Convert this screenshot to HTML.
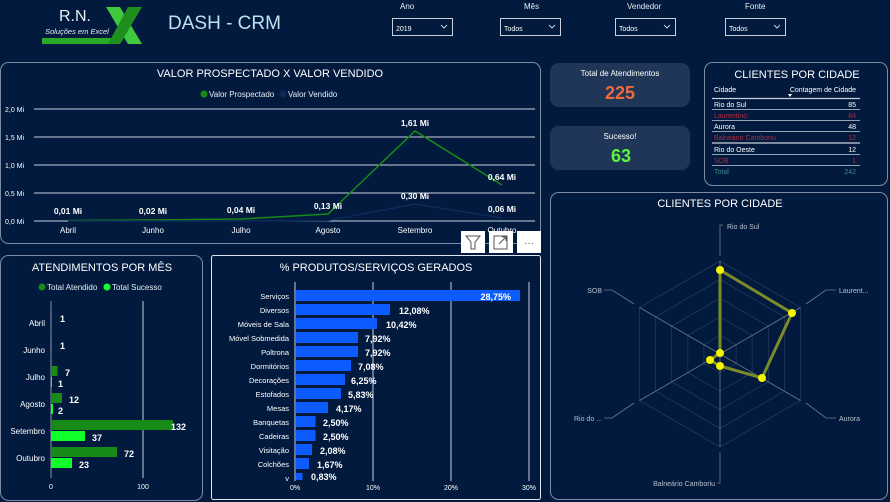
<!DOCTYPE html>
<html><head><meta charset="utf-8"><style>
html,body{margin:0;padding:0;background:#011a3e;}
svg{display:block;font-family:"Liberation Sans",sans-serif;}
</style></head><body>
<svg width="890" height="502" viewBox="0 0 890 502" xmlns="http://www.w3.org/2000/svg">
<rect width="890" height="502" fill="#011a3e"/>
<!-- logo -->
<polygon points="42,38 118,38 124,32 128,32 120,44 42,44" fill="#2aa82a"/>
<polygon points="106,7 120,7 142,44 128,44" fill="#3ec93e"/>
<polygon points="128,7 142,7 120,44 108,44" fill="#1e8f1e"/>
<text x="59" y="21" font-size="16" fill="#e8eef5">R.N.</text>
<text x="45" y="34" font-size="7.5" font-style="italic" fill="#e8eef5">Soluções em Excel</text>
<text x="168" y="29" font-size="19" fill="#bfe0ef">DASH - CRM</text>
<!-- slicers -->
<g font-size="8" fill="#e8eef5">
<text x="400" y="9">Ano</text><text x="524" y="9">Mês</text><text x="627" y="9">Vendedor</text><text x="745" y="9">Fonte</text>
</g>
<g fill="none" stroke="#c8d0dc" stroke-width="1">
<rect x="392.5" y="18.5" width="60" height="17"/><rect x="500.5" y="18.5" width="60" height="17"/>
<rect x="615.5" y="18.5" width="60" height="17"/><rect x="725.5" y="18.5" width="60" height="17"/>
</g>
<g font-size="7" fill="#fff">
<text x="396" y="31">2019</text><text x="504" y="31">Todos</text><text x="619" y="31">Todos</text><text x="729" y="31">Todos</text>
</g>
<g fill="none" stroke="#fff" stroke-width="0.8">
<polyline points="441,25 444,28 447,25"/><polyline points="549,25 552,28 555,25"/><polyline points="664,25 667,28 670,25"/><polyline points="774,25 777,28 780,25"/>
</g>

<!-- line chart panel -->
<rect x="0.5" y="62.5" width="540" height="181" rx="8" fill="none" stroke="#7f8ba0"/>
<text x="270" y="77" font-size="11" fill="#fff" text-anchor="middle">VALOR PROSPECTADO X VALOR VENDIDO</text>
<circle cx="204" cy="94" r="3.5" fill="#178a17"/><text x="209" y="97" font-size="8" fill="#e8eef5">Valor Prospectado</text>
<circle cx="283" cy="94" r="3.5" fill="#0d2a5a"/><text x="288" y="97" font-size="8" fill="#e8eef5">Valor Vendido</text>
<g stroke="#c8d0dc" stroke-width="1">
<line x1="34" y1="109" x2="535" y2="109"/><line x1="34" y1="137" x2="535" y2="137"/><line x1="34" y1="165" x2="535" y2="165"/><line x1="34" y1="193" x2="535" y2="193"/><line x1="34" y1="221" x2="535" y2="221"/>
</g>
<g font-size="7" fill="#fff">
<text x="5" y="112">2,0 Mi</text><text x="5" y="140">1,5 Mi</text><text x="5" y="168">1,0 Mi</text><text x="5" y="196">0,5 Mi</text><text x="5" y="224">0,0 Mi</text>
</g>
<polyline points="68,220.5 153,220 241,219 328,214 415,131 502,185" fill="none" stroke="#178a17" stroke-width="1.5"/>
<polyline points="68,221 153,221 241,221 328,220.5 415,204 502,218" fill="none" stroke="#0d2a5a" stroke-width="1.5"/>
<g font-size="8.5" font-weight="bold" fill="#fff" text-anchor="middle">
<text x="68" y="214">0,01 Mi</text><text x="153" y="214">0,02 Mi</text><text x="241" y="213">0,04 Mi</text><text x="328" y="209">0,13 Mi</text><text x="415" y="126">1,61 Mi</text><text x="502" y="180">0,64 Mi</text><text x="415" y="199">0,30 Mi</text><text x="502" y="212">0,06 Mi</text>
</g>
<g font-size="8" fill="#fff" text-anchor="middle">
<text x="68" y="233">Abril</text><text x="153" y="233">Junho</text><text x="241" y="233">Julho</text><text x="328" y="233">Agosto</text><text x="415" y="233">Setembro</text><text x="502" y="233">Outubro</text>
</g>
<rect x="461" y="231" width="24" height="22" fill="#fff"/><rect x="489" y="231" width="24" height="22" fill="#fff"/><rect x="517" y="231" width="24" height="22" fill="#fff"/>
<path d="M466,236 h14 l-5,6 v7 h-4 v-7 z" fill="none" stroke="#555" stroke-width="1"/>
<rect x="494" y="236" width="13" height="13" fill="none" stroke="#555"/><path d="M499,244 l7,-7 M502,237 h4 v4" stroke="#555" fill="none"/>
<text x="529" y="246" font-size="10" fill="#555" text-anchor="middle">···</text>

<!-- KPIs -->
<rect x="550" y="63" width="140" height="44" rx="9" fill="#1f3658"/>
<text x="620" y="76" font-size="8" fill="#fff" text-anchor="middle">Total de Atendimentos</text>
<text x="620" y="99" font-size="18" font-weight="bold" fill="#ee6a3c" text-anchor="middle">225</text>
<rect x="550" y="126" width="140" height="44" rx="9" fill="#1f3658"/>
<text x="620" y="139" font-size="8" fill="#fff" text-anchor="middle">Sucesso!</text>
<text x="621" y="162" font-size="18" font-weight="bold" fill="#5cf53a" text-anchor="middle">63</text>

<!-- table -->
<rect x="704.5" y="62.5" width="183" height="123" rx="8" fill="none" stroke="#7f8ba0"/>
<text x="797" y="78" font-size="11" fill="#fff" text-anchor="middle">CLIENTES POR CIDADE</text>
<g font-size="7" fill="#fff">
<text x="714" y="92">Cidade</text><text x="856" y="92" text-anchor="end">Contagem de Cidade</text>
</g>
<polygon points="788,94 792,94 790,97" fill="#fff"/>
<g stroke="#c8d0dc" stroke-width="0.8">
<line x1="712" y1="98.5" x2="860" y2="98.5" stroke-width="1.3"/>
<line x1="712" y1="109.5" x2="860" y2="109.5"/><line x1="712" y1="120.5" x2="860" y2="120.5"/><line x1="712" y1="131.5" x2="860" y2="131.5"/><line x1="712" y1="143" x2="860" y2="143" stroke-width="1.3"/><line x1="712" y1="154.5" x2="860" y2="154.5"/><line x1="712" y1="165.5" x2="860" y2="165.5"/>
</g>
<g font-size="7">
<text x="714" y="107" fill="#fff">Rio do Sul</text><text x="856" y="107" fill="#fff" text-anchor="end">85</text>
<text x="714" y="118" fill="#b02a3a">Laurentino</text><text x="856" y="118" fill="#b02a3a" text-anchor="end">84</text>
<text x="714" y="129" fill="#fff">Aurora</text><text x="856" y="129" fill="#fff" text-anchor="end">48</text>
<text x="714" y="140" fill="#b02a3a">Balneário Camboriu</text><text x="856" y="140" fill="#b02a3a" text-anchor="end">12</text>
<text x="714" y="152" fill="#fff">Rio do Oeste</text><text x="856" y="152" fill="#fff" text-anchor="end">12</text>
<text x="714" y="163" fill="#b02a3a">SOB</text><text x="856" y="163" fill="#b02a3a" text-anchor="end">1</text>
<text x="714" y="174" fill="#3a8a8a">Total</text><text x="856" y="174" fill="#3a8a8a" text-anchor="end">242</text>
</g>

<!-- radar -->
<rect x="550.5" y="192.5" width="337" height="307" rx="8" fill="none" stroke="#7f8ba0"/>
<text x="720" y="207" font-size="11" fill="#fff" text-anchor="middle">CLIENTES POR CIDADE</text>
<g fill="none" stroke="#26395a" stroke-width="0.8">
<polygon points="720,261 800.5,307.5 800.5,400.5 720,447 639.5,400.5 639.5,307.5"/>
<polygon points="720,279.6 784.4,316.8 784.4,391.2 720,428.4 655.6,391.2 655.6,316.8"/>
<polygon points="720,298.2 768.3,326.1 768.3,381.9 720,409.8 671.7,381.9 671.7,326.1"/>
<polygon points="720,316.8 752.2,335.4 752.2,372.6 720,391.2 687.8,372.6 687.8,335.4"/>
<polygon points="720,335.4 736.1,344.7 736.1,363.3 720,372.6 703.9,363.3 703.9,344.7"/>
</g>
<g stroke="#6f7b90" stroke-width="0.8" fill="none">
<polyline points="723,225 720,225 720,256"/><line x1="720" y1="261" x2="720" y2="447"/>
<polyline points="720,452 720,483 717,483"/>
<polyline points="836,290 826,290 806,304"/><line x1="639.5" y1="400.5" x2="800.5" y2="307.5"/>
<polyline points="836,418 826,418 806,403"/><line x1="639.5" y1="307.5" x2="800.5" y2="400.5"/>
<polyline points="604,290 612,290 634,304"/><polyline points="604,418 612,418 634,403"/>
</g>
<g font-size="7" fill="#b8c0cc">
<text x="727" y="229">Rio do Sul</text><text x="839" y="293">Laurent...</text><text x="839" y="421">Aurora</text>
<text x="715" y="486" text-anchor="end">Balneário Camboriu</text><text x="602" y="421" text-anchor="end">Rio do ...</text><text x="602" y="293" text-anchor="end">SOB</text>
</g>
<polygon points="720,270 792,313 762,378 720,366 710,360 720,353" fill="none" stroke="#7c8a2a" stroke-width="3"/>
<g fill="#f5f500"><circle cx="720" cy="270" r="4"/><circle cx="792" cy="313" r="4"/><circle cx="762" cy="378" r="4"/><circle cx="720" cy="366" r="4"/><circle cx="710" cy="360" r="4"/><circle cx="720" cy="353" r="4"/></g>

<!-- atendimentos por mes -->
<rect x="0.5" y="255.5" width="202" height="245" rx="8" fill="none" stroke="#7f8ba0"/>
<text x="102" y="271" font-size="11" fill="#fff" text-anchor="middle">ATENDIMENTOS POR MÊS</text>
<circle cx="42" cy="287" r="3.5" fill="#178a17"/><text x="47" y="290" font-size="8" fill="#e8eef5">Total Atendido</text>
<circle cx="107" cy="287" r="3.5" fill="#11ff2a"/><text x="112" y="290" font-size="8" fill="#e8eef5">Total Sucesso</text>
<line x1="51" y1="301" x2="51" y2="478" stroke="#8a94a6"/><line x1="143" y1="301" x2="143" y2="478" stroke="#c8d0dc"/>
<g font-size="8" fill="#fff" text-anchor="end">
<text x="45" y="326">Abril</text><text x="45" y="353">Junho</text><text x="45" y="380">Julho</text><text x="45" y="407">Agosto</text><text x="45" y="434">Setembro</text><text x="45" y="461">Outubro</text>
</g>
<g fill="#178a17">
<rect x="51" y="313" width="1" height="10"/><rect x="51" y="340" width="1" height="10"/><rect x="51" y="366" width="6.5" height="10"/><rect x="51" y="393" width="11" height="10"/><rect x="51" y="420" width="122" height="10"/><rect x="51" y="447" width="66" height="10"/>
</g>
<g fill="#11ff2a">
<rect x="51" y="377" width="1" height="10"/><rect x="51" y="404" width="2" height="10"/><rect x="51" y="431" width="34" height="10"/><rect x="51" y="458" width="21" height="10"/>
</g>
<g font-size="9" font-weight="bold" fill="#fff">
<text x="60" y="322">1</text><text x="60" y="349">1</text><text x="65" y="376">7</text><text x="58" y="387">1</text><text x="69" y="403">12</text><text x="58" y="414">2</text><text x="171" y="430">132</text><text x="92" y="441">37</text><text x="124" y="457">72</text><text x="79" y="468">23</text>
</g>
<g font-size="7" fill="#fff" text-anchor="middle"><text x="51" y="489">0</text><text x="143" y="489">100</text></g>

<!-- produtos -->
<rect x="211.5" y="255.5" width="329" height="244" rx="2" fill="none" stroke="#e0e6ee"/>
<text x="376" y="271" font-size="11" fill="#fff" text-anchor="middle">% PRODUTOS/SERVIÇOS GERADOS</text>
<g stroke="#c8d0dc"><line x1="295" y1="282" x2="295" y2="481"/><line x1="373" y1="282" x2="373" y2="481"/><line x1="451" y1="282" x2="451" y2="481"/><line x1="529" y1="282" x2="529" y2="481"/></g>
<g fill="#0d5cff">
<rect x="296" y="290" width="224" height="11"/><rect x="296" y="304" width="94" height="11"/><rect x="296" y="318" width="81" height="11"/><rect x="296" y="332" width="62" height="11"/><rect x="296" y="346" width="62" height="11"/><rect x="296" y="360" width="55" height="11"/><rect x="296" y="374" width="49" height="11"/><rect x="296" y="388" width="45" height="11"/><rect x="296" y="402" width="32" height="11"/><rect x="296" y="416" width="19.5" height="11"/><rect x="296" y="430" width="19.5" height="11"/><rect x="296" y="444" width="16" height="11"/><rect x="296" y="458" width="13" height="11"/><rect x="296" y="473" width="6.5" height="7"/>
</g>
<g font-size="7.5" fill="#fff" text-anchor="end">
<text x="289" y="299">Serviços</text><text x="289" y="313">Diversos</text><text x="289" y="327">Móveis de Sala</text><text x="289" y="341">Móvel Sobmedida</text><text x="289" y="355">Poltrona</text><text x="289" y="369">Dormitórios</text><text x="289" y="383">Decorações</text><text x="289" y="397">Estofados</text><text x="289" y="411">Mesas</text><text x="289" y="425">Banquetas</text><text x="289" y="439">Cadeiras</text><text x="289" y="453">Visitação</text><text x="289" y="467">Colchões</text><text x="289" y="481">v</text>
</g>
<g font-size="9" font-weight="bold" fill="#fff">
<text x="511" y="300" text-anchor="end">28,75%</text><text x="399" y="314">12,08%</text><text x="386" y="328">10,42%</text><text x="365" y="342">7,92%</text><text x="365" y="356">7,92%</text><text x="358" y="370">7,08%</text><text x="351" y="384">6,25%</text><text x="348" y="398">5,83%</text><text x="336" y="412">4,17%</text><text x="323" y="426">2,50%</text><text x="323" y="440">2,50%</text><text x="320" y="454">2,08%</text><text x="317" y="468">1,67%</text><text x="311" y="480">0,83%</text>
</g>
<g font-size="7" fill="#fff" text-anchor="middle"><text x="295" y="490">0%</text><text x="373" y="490">10%</text><text x="451" y="490">20%</text><text x="529" y="490">30%</text></g>
</svg>
</body></html>
